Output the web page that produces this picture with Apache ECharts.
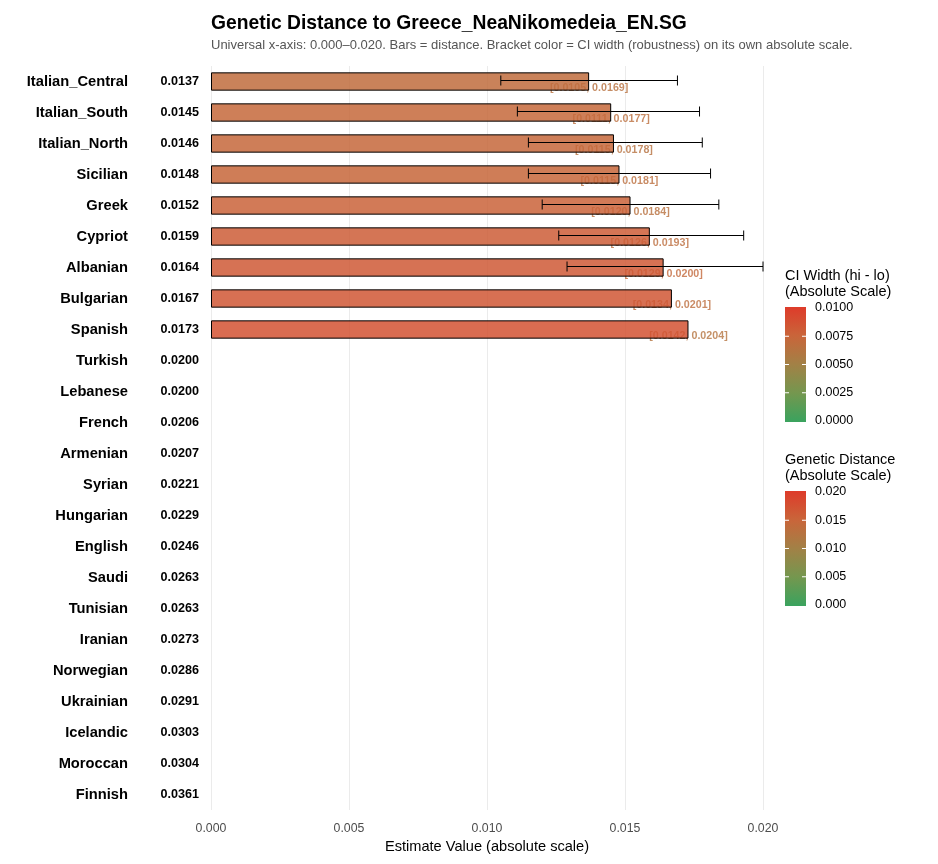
<!DOCTYPE html>
<html>
<head>
<meta charset="utf-8">
<script src="https://cdn.jsdelivr.net/npm/echarts@6/dist/echarts.min.js"></script>
<style>
html, body { margin: 0; padding: 0; background: #fff; }
#main { width: 938px; height: 864px; }
</style>
</head>
<body>
<div id="main"></div>
<script>
// populations, top to bottom
const populations = ['Italian_Central', 'Italian_South', 'Italian_North', 'Sicilian', 'Greek', 'Cypriot',
  'Albanian', 'Bulgarian', 'Spanish', 'Turkish', 'Lebanese', 'French', 'Armenian', 'Syrian', 'Hungarian',
  'English', 'Saudi', 'Tunisian', 'Iranian', 'Norwegian', 'Ukrainian', 'Icelandic', 'Moroccan', 'Finnish'];
const distance = [0.0137, 0.0145, 0.0146, 0.0148, 0.0152, 0.0159, 0.0164, 0.0167, 0.0173, 0.0200, 0.0200,
  0.0206, 0.0207, 0.0221, 0.0229, 0.0246, 0.0263, 0.0263, 0.0273, 0.0286, 0.0291, 0.0303, 0.0304, 0.0361];
// confidence interval, only known for the first rows
const ciLo = [0.0105, 0.0111, 0.0115, 0.0115, 0.0120, 0.0126, 0.0129, 0.0134, 0.0142];
const ciHi = [0.0169, 0.0177, 0.0178, 0.0181, 0.0184, 0.0193, 0.0200, 0.0201, 0.0204];
const xTicks = [0, 0.005, 0.010, 0.015, 0.020];
const ciLegendTicks = [0, 0.0025, 0.005, 0.0075, 0.01];
const distLegendTicks = [0, 0.005, 0.010, 0.015, 0.020];

const X_MAX = 0.02;
const CI_MAX = 0.01;
const scaleColors = ['#3aa35e', '#74974f', '#a28146', '#c9653a', '#de3b2a'];
const FONT = 'Liberation Sans, Arial, sans-serif';

function scaleColor(v, max) {
  return echarts.color.lerp(Math.max(0, Math.min(1, v / max)), scaleColors);
}

const barData = distance.map(function (d, i) {
  if (d >= X_MAX) return { value: ['-', populations[i]] };
  return { value: [d, populations[i]], itemStyle: { color: echarts.color.modifyAlpha(scaleColor(d, X_MAX), 0.85) } };
});

const errData = [];
ciLo.forEach(function (lo, i) {
  if (ciHi[i] <= X_MAX) errData.push([lo, ciHi[i], i]);
});

const ciLabelData = ciLo.map(function (lo, i) {
  return {
    value: [distance[i], populations[i]],
    label: { color: scaleColor(ciHi[i] - lo, CI_MAX) }
  };
});

// legends (colour bars) drawn with graphic elements
function legendGraphic(top, title, ticks, max, digits) {
  const x = 785, w = 21, y0 = top + 31, h = 115;
  const stops = scaleColors.map(function (c, k) {
    return { offset: 1 - k / (scaleColors.length - 1), color: c };
  });
  const els = [
    { type: 'text', left: x, top: top - 8, style: { text: title[0], font: '14.5px ' + FONT, fill: '#000' } },
    { type: 'text', left: x, top: top + 8, style: { text: title[1], font: '14.5px ' + FONT, fill: '#000' } },
    { type: 'rect', shape: { x: x, y: y0, width: w, height: h },
      style: { fill: new echarts.graphic.LinearGradient(0, 0, 0, 1, stops) } }
  ];
  ticks.forEach(function (t) {
    const y = y0 + 1 + (h - 2) * (1 - t / max);
    els.push({ type: 'text', x: x + 30, y: y, style: { text: t.toFixed(digits), font: '12.5px ' + FONT,
      fill: '#000', textVerticalAlign: 'middle' } });
    if (t > 0 && t < max) {
      els.push({ type: 'line', shape: { x1: x, y1: y, x2: x + 4, y2: y }, style: { stroke: '#fff', lineWidth: 1 } });
      els.push({ type: 'line', shape: { x1: x + w - 4, y1: y, x2: x + w, y2: y }, style: { stroke: '#fff', lineWidth: 1 } });
    }
  });
  return els;
}

const chart = echarts.init(document.getElementById('main'));
chart.setOption({
  animation: false,
  backgroundColor: '#fff',
  textStyle: { fontFamily: FONT },
  title: {
    left: 206, top: 9,
    text: 'Genetic Distance to Greece_NeaNikomedeia_EN.SG',
    subtext: 'Universal x-axis: 0.000\u20130.020. Bars = distance. Bracket color = CI width (robustness) on its own absolute scale.',
    itemGap: 6,
    textStyle: { fontSize: 19.3, fontWeight: 'bold', color: '#000', fontFamily: FONT },
    subtextStyle: { fontSize: 13, color: '#555', fontFamily: FONT }
  },
  grid: { left: 211, right: 175, top: 66, height: 744 },
  xAxis: {
    type: 'value', min: 0, max: X_MAX, interval: 0.005,
    name: 'Estimate Value (absolute scale)', nameLocation: 'middle', nameGap: 28,
    nameTextStyle: { fontSize: 14.6, color: '#000' },
    axisLine: { show: false }, axisTick: { show: false },
    axisLabel: { fontSize: 12.3, color: '#4d4d4d', margin: 13,
      formatter: function (v) { return v.toFixed(3); } },
    splitLine: { show: true, lineStyle: { color: '#ebebeb', width: 1 } }
  },
  yAxis: {
    type: 'category', data: populations, inverse: true,
    axisLine: { show: false }, axisTick: { show: false },
    splitLine: { show: false },
    axisLabel: {
      margin: 12,
      formatter: function (v, i) { return '{n|' + v + '}{v|' + distance[i].toFixed(4) + '}'; },
      rich: {
        n: { fontSize: 14.7, fontWeight: 'bold', color: '#000', fontFamily: FONT },
        v: { fontSize: 12.6, fontWeight: 'bold', color: '#000', fontFamily: FONT, width: 71, align: 'right' }
      }
    }
  },
  series: [
    {
      type: 'scatter', z: 1, symbolSize: 0, data: ciLabelData,
      label: {
        show: true, position: 'inside', offset: [0, 7],
        fontSize: 10.7, fontWeight: 'bold', fontFamily: FONT,
        formatter: function (p) {
          return '[' + ciLo[p.dataIndex].toFixed(4) + ', ' + ciHi[p.dataIndex].toFixed(4) + ']';
        }
      }
    },
    {
      type: 'bar', z: 2, barWidth: '59%', data: barData,
      itemStyle: { borderColor: '#000', borderWidth: 1 }
    },
    {
      type: 'custom', z: 3, data: errData,
      encode: { x: [0, 1], y: 2 },
      renderItem: function (params, api) {
        const a = api.coord([api.value(0), api.value(2)]);
        const b = api.coord([api.value(1), api.value(2)]);
        const y = a[1] - 1, cap = 5;
        const st = { stroke: '#000', lineWidth: 1 };
        return {
          type: 'group',
          children: [
            { type: 'line', shape: { x1: a[0], y1: y, x2: b[0], y2: y }, style: st },
            { type: 'line', shape: { x1: a[0], y1: y - cap, x2: a[0], y2: y + cap }, style: st },
            { type: 'line', shape: { x1: b[0], y1: y - cap, x2: b[0], y2: y + cap }, style: st }
          ]
        };
      }
    }
  ],
  graphic: legendGraphic(276, ['CI Width (hi - lo)', '(Absolute Scale)'], ciLegendTicks, CI_MAX, 4)
    .concat(legendGraphic(460, ['Genetic Distance', '(Absolute Scale)'], distLegendTicks, X_MAX, 3))
});
</script>
</body>
</html>
